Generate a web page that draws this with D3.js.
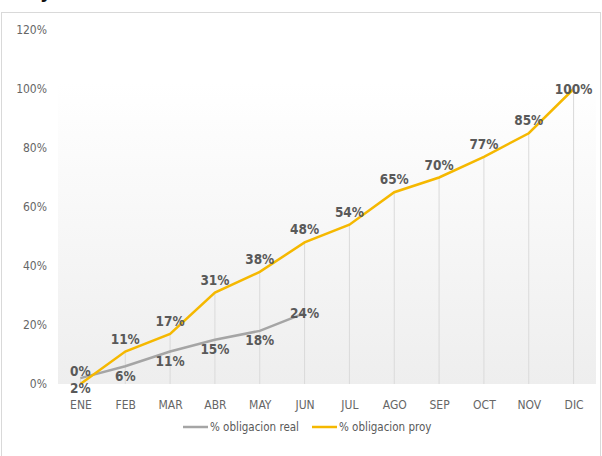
<!DOCTYPE html>
<html lang="es">
<head>
<meta charset="utf-8">
<title>% obligacion real vs proy</title>
<script src="https://cdn.jsdelivr.net/npm/d3@7"></script>
<style>
  body { margin: 0; background: #fff; }
  text { font-family: "DejaVu Sans", sans-serif; font-stretch: condensed; }
  .tick text { fill: #666; font-size: 12px; }
  .lbl { fill: #595959; font-size: 13.5px; font-weight: bold; }
  .legend text { fill: #595959; font-size: 11.5px; }
</style>
</head>
<body>
<svg></svg>
<script>
// data
var meses = ["ENE", "FEB", "MAR", "ABR", "MAY", "JUN", "JUL", "AGO", "SEP", "OCT", "NOV", "DIC"];
var obligacionReal = [2, 6, 11, 15, 18, 24];
var obligacionProy = [0, 11, 17, 31, 38, 48, 54, 65, 70, 77, 85, 100];
var yTicks = [0, 20, 40, 60, 80, 100, 120];

var W = 602, H = 456;
var margin = {top: 30, right: 4, bottom: 72, left: 58};

var svg = d3.select("svg").attr("width", W).attr("height", H);

// cut-off title remnant at the very top
svg.append("text")
    .attr("x", 40).attr("y", -2)
    .style("font-size", "20px").style("font-weight", "bold")
    .attr("fill", "#111")
    .text("y");

// chart border
svg.append("rect")
    .attr("x", 1.5).attr("y", 12.5)
    .attr("width", W - 3).attr("height", H)
    .attr("fill", "#fff")
    .attr("stroke", "#d9d9d9");

var x = d3.scalePoint()
    .domain(meses)
    .range([margin.left, W - margin.right - 2])
    .padding(0.5);
var y = d3.scaleLinear()
    .domain([0, 120])
    .range([384, margin.top]);

// plot area gradient
var grad = svg.append("defs").append("linearGradient")
    .attr("id", "bg").attr("x1", 0).attr("y1", 0).attr("x2", 0).attr("y2", 1);
grad.append("stop").attr("offset", "0%").attr("stop-color", "#ffffff");
grad.append("stop").attr("offset", "15%").attr("stop-color", "#ffffff");
grad.append("stop").attr("offset", "100%").attr("stop-color", "#eeeeee");
svg.append("rect")
    .attr("x", margin.left).attr("y", y(120))
    .attr("width", W - margin.right - 2 - margin.left)
    .attr("height", y(0) - y(120))
    .attr("fill", "url(#bg)");

// drop lines
svg.append("g").selectAll("line")
    .data(meses)
    .join("line")
    .attr("x1", function(d) { return x(d); })
    .attr("x2", function(d) { return x(d); })
    .attr("y1", function(d, i) { return y(Math.max(obligacionProy[i], obligacionReal[i] || 0)); })
    .attr("y2", y(0))
    .attr("stroke", "#dadada")
    .attr("stroke-width", 1);

// axes
var yAxis = svg.append("g")
    .attr("transform", "translate(" + 47 + ",0)")
    .call(d3.axisLeft(y).tickValues(yTicks).tickSize(0).tickPadding(0)
        .tickFormat(function(d) { return d + "%"; }));
yAxis.select(".domain").remove();

var xAxis = svg.append("g")
    .attr("transform", "translate(0," + y(0) + ")")
    .call(d3.axisBottom(x).tickSize(0).tickPadding(16));
xAxis.select(".domain").remove();

// lines
var line = d3.line()
    .x(function(d, i) { return x(meses[i]); })
    .y(function(d) { return y(d); });

svg.append("path")
    .datum(obligacionReal)
    .attr("fill", "none")
    .attr("stroke", "#a5a5a5")
    .attr("stroke-width", 2.5)
    .attr("d", line);

svg.append("path")
    .datum(obligacionProy)
    .attr("fill", "none")
    .attr("stroke", "#f5b800")
    .attr("stroke-width", 2.5)
    .attr("d", line);

// labels: last point centered on it, others above (proy) / below (real)
function labels(data, dy) {
    svg.append("g").selectAll("text")
        .data(data)
        .join("text")
        .attr("class", "lbl")
        .attr("text-anchor", "middle")
        .attr("x", function(d, i) { return x(meses[i]); })
        .attr("y", function(d, i) { return y(d) + (i === data.length - 1 ? 5 : dy); })
        .text(function(d) { return d + "%"; });
}
labels(obligacionReal, 14.5);
labels(obligacionProy, -8);

// legend
var legend = svg.append("g").attr("class", "legend");
var items = [
    {name: "% obligacion real", color: "#a5a5a5", x0: 183},
    {name: "% obligacion proy", color: "#f5b800", x0: 312}
];
items.forEach(function(it) {
    legend.append("line")
        .attr("x1", it.x0).attr("x2", it.x0 + 25)
        .attr("y1", 427).attr("y2", 427)
        .attr("stroke", it.color).attr("stroke-width", 2.5);
    legend.append("text")
        .attr("x", it.x0 + 27).attr("y", 431)
        .text(it.name);
});
</script>
</body>
</html>
